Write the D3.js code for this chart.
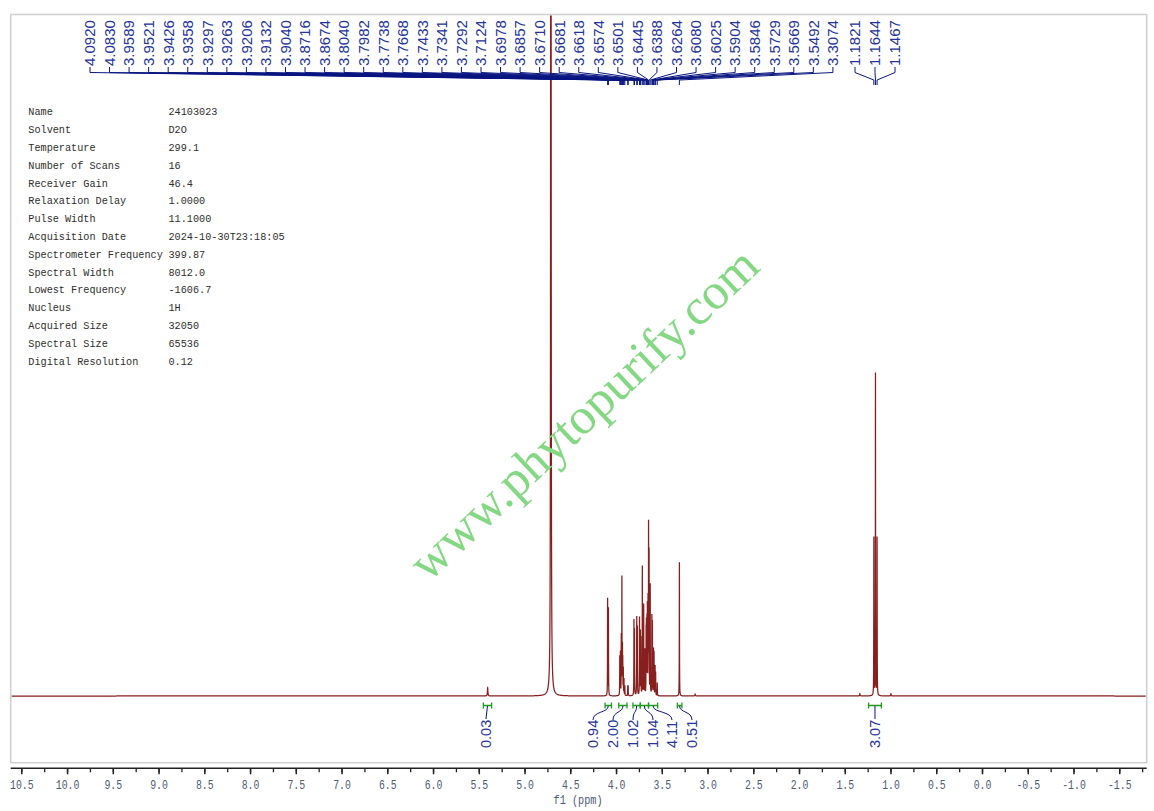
<!DOCTYPE html>
<html><head><meta charset="utf-8">
<script src="https://cdn.jsdelivr.net/npm/d3@7"></script>
<style>body{margin:0;background:#fff;} svg{display:block}</style>
</head><body>
<svg id="c" width="1154" height="811"></svg>
<script>
// ---------- data ----------
const peakLabels = ["4.0920","4.0830","3.9589","3.9521","3.9426","3.9358","3.9297","3.9263","3.9206","3.9132","3.9040","3.8716","3.8674","3.8040","3.7982","3.7738","3.7668","3.7433","3.7341","3.7292","3.7124","3.6978","3.6857","3.6710","3.6681","3.6618","3.6574","3.6501","3.6445","3.6388","3.6264","3.6080","3.6025","3.5904","3.5846","3.5729","3.5669","3.5492","3.3074"];
const peakHeights = [30,27,12,13,18,36,14,10,8,5,3,3,3,23,20,24,21,24,19,17,40,28,14,18,20,22,26,28,51,43,34,24,22,14,13,9,7,4,41.5];
const tripletLabels = ["1.1821","1.1644","1.1467"];
const tripletHeights = [49,100,49];
const extraPpm = [4.712,5.403,3.135,1.335,0.995];
const extraHeights = [800,2.6,0.6,0.7,0.7];
const integFrom = [5.45,4.12,3.97,3.815,3.735,3.645,3.33,1.24];
const integTo   = [5.36,4.05,3.88,3.735,3.645,3.545,3.28,1.10];
const integValues = ["0.03","0.94","2.00","1.02","1.04","4.11","0.51","3.07"];
const xTicks = d3.range(-1.5, 10.51, 0.5);
const xMinorTicks = d3.range(-1.75, 10.6, 0.25);
const paramNames = ["Name","Solvent","Temperature","Number of Scans","Receiver Gain","Relaxation Delay","Pulse Width","Acquisition Date","Spectrometer Frequency","Spectral Width","Lowest Frequency","Nucleus","Acquired Size","Spectral Size","Digital Resolution"];
const paramValues = ["24103023","D2O","299.1","16","46.4","1.0000","11.1000","2024-10-30T23:18:05","399.87","8012.0","-1606.7","1H","32050","65536","0.12"];
const watermark = "www.phytopurify.com";

// ---------- layout ----------
const svg = d3.select("#c");
const box = {x0:10.7, x1:1146.7, y0:14.5, y1:762.7};
const xs = d3.scaleLinear().domain([10.616,-1.8]).range([box.x0, box.x1]);
const ys = d3.scaleLinear().domain([0,100]).range([696,374]);
const red = "#7d0c0c", navy = "#0a1680", blueText = "#24349a", green = "#1f9a1f";

svg.append("rect").attr("x",box.x0).attr("y",box.y0).attr("width",box.x1-box.x0).attr("height",box.y1-box.y0)
  .attr("fill","#fff").attr("stroke","#cfcfcf").attr("stroke-width",1.5);
svg.append("clipPath").attr("id","clip").append("rect")
  .attr("x",box.x0+1).attr("y",box.y0+1).attr("width",box.x1-box.x0-2).attr("height",box.y1-box.y0-2);

// parameter table
const tbl = svg.append("g").attr("font-family","'Liberation Mono', monospace").attr("font-size",10.2).attr("fill","#2e2e2e");
paramNames.forEach((n,i)=>{
  const y = 115.3 + i*17.8;
  tbl.append("text").attr("x",28.3).attr("y",y).text(n);
  tbl.append("text").attr("x",168.5).attr("y",y).text(paramValues[i]);
});

// spectrum (sum of narrow Lorentzian lines at the read peak positions)
const lines = [];
peakLabels.forEach((p,i)=>lines.push({ppm:+p, h:peakHeights[i], g:0.0012}));
tripletLabels.forEach((p,i)=>lines.push({ppm:+p, h:tripletHeights[i], g:0.0012}));
extraPpm.forEach((p,i)=>lines.push({ppm:p, h:extraHeights[i], g: i===0?0.0018:0.003}));
let samples = d3.range(-1.8, 10.62, 0.004);
lines.forEach(l=>{ for(let d=-0.03; d<=0.03; d+=0.0002) samples.push(l.ppm+d); });
samples.sort((a,b)=>b-a);
const spec = samples.map(s=>{
  let v=0; lines.forEach(l=>{ const d=s-l.ppm; v += l.h*l.g*l.g/(d*d+l.g*l.g); });
  return [s,v];
});
svg.append("path").attr("clip-path","url(#clip)")
  .attr("d", d3.line().x(d=>xs(d[0])).y(d=>ys(d[1]))(spec))
  .attr("fill","none").attr("stroke",red).attr("stroke-width",1.25).attr("stroke-opacity",0.92);

// top peak labels
const topG = svg.append("g");
const topSlots = peakLabels.map((p,i)=>({label:p, lx: 90 + i*19.55}))
  .concat(tripletLabels.map((p,i)=>({label:p, lx: 855 + i*20})));
topSlots.forEach(s=>{
  const px = xs(+s.label);
  topG.append("path").attr("d",`M${s.lx},67 L${s.lx},72.5 L${px},80 L${px},85`)
    .attr("fill","none").attr("stroke",navy).attr("stroke-width",1);
  topG.append("text").attr("transform",`translate(${s.lx+5.3},66) rotate(-90)`)
    .attr("font-family","'Liberation Sans', Arial, sans-serif").attr("font-size",15)
    .attr("fill",blueText).text(s.label);
});

// integrals
const integLabelX = [486,593,613,633,653,672,692,875];
const ig = svg.append("g");
integValues.forEach((v,i)=>{
  const a = xs(integFrom[i]), b = xs(integTo[i]), c=(a+b)/2, lx=integLabelX[i];
  ig.append("path").attr("d",`M${a},702.5 L${a},708.5 M${a},705.5 L${b},705.5 M${b},702.5 L${b},708.5`)
    .attr("fill","none").attr("stroke",green).attr("stroke-width",1.3);
  const d = Math.abs(lx-c)<3 ? `M${c},706 L${lx},719` : `M${lx},720 C${lx},711 ${c},713 ${c},706`;
  ig.append("path").attr("d",d).attr("fill","none").attr("stroke",navy).attr("stroke-width",1);
  ig.append("text").attr("transform",`translate(${lx+5},748) rotate(-90)`)
    .attr("font-family","'Liberation Sans', Arial, sans-serif").attr("font-size",14.5)
    .attr("fill",blueText).text(v);
});

// watermark
svg.append("text").attr("transform","translate(583,413) rotate(-43.3)")
  .attr("text-anchor","middle").attr("dy","0.35em")
  .attr("font-family","'Liberation Serif', 'Times New Roman', serif").attr("font-size",51)
  .attr("fill","#84d884").text(watermark);

// x axis
const axG = svg.append("g").attr("transform","translate(0,768.3)");
axG.append("line").attr("x1",box.x0).attr("x2",box.x1).attr("stroke","#222").attr("stroke-width",1.5);
axG.append("g").call(d3.axisBottom(xs).tickValues(xMinorTicks).tickSize(4).tickFormat(""))
  .call(g=>g.select(".domain").remove()).selectAll("line").attr("stroke","#222").attr("stroke-width",1.3);
const maj = axG.append("g").call(d3.axisBottom(xs).tickValues(xTicks).tickSize(6).tickPadding(6).tickFormat(d3.format(".1f")));
maj.select(".domain").remove();
maj.selectAll("line").attr("stroke","#222").attr("stroke-width",1.5);
maj.selectAll("text").attr("font-family","'Liberation Mono', monospace").attr("font-size",12.5)
  .attr("fill","#4e5a78").each(function(){ const t=d3.select(this).text().replace("−","-"); d3.select(this).text(t).attr("textLength",t.length*5.9).attr("lengthAdjust","spacingAndGlyphs"); });
svg.append("text").attr("x",578).attr("y",804).attr("text-anchor","middle")
  .attr("font-family","'Liberation Mono', monospace").attr("font-size",12).attr("fill","#4e5a78")
  .attr("textLength",49).attr("lengthAdjust","spacingAndGlyphs").text("f1 (ppm)");
</script>
</body></html>
